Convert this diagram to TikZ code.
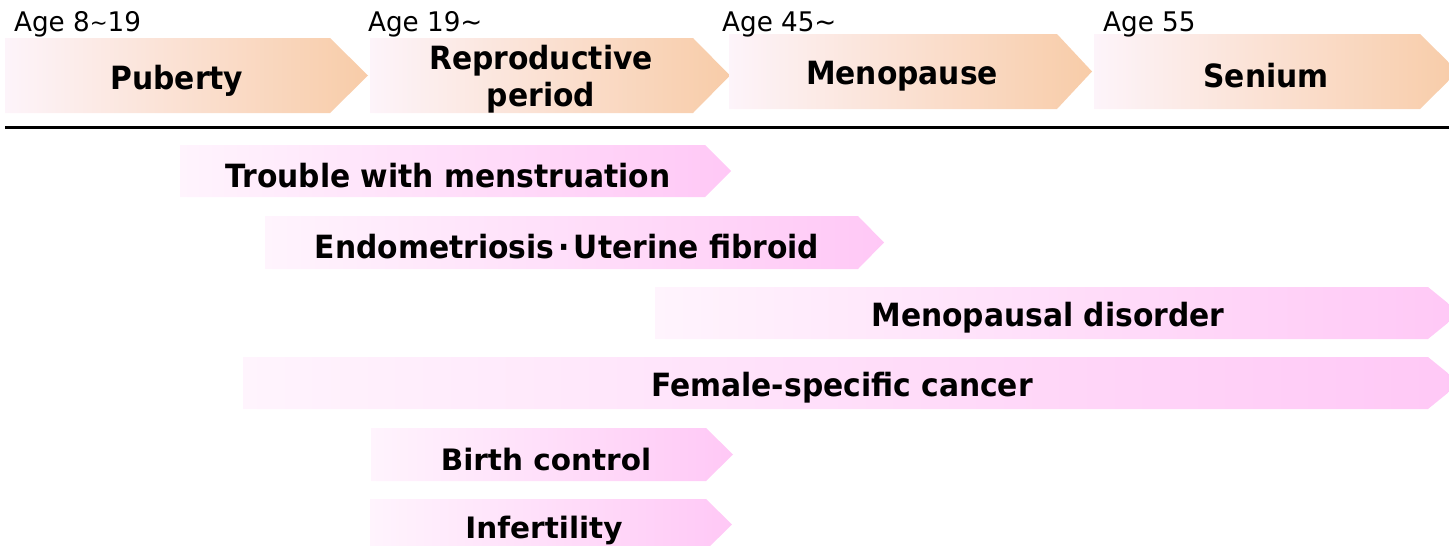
\documentclass[tikz,border=0pt]{standalone}
\usepackage{fontspec}
\setmainfont{DejaVu Sans}
\newfontfamily\condf{DejaVu Sans}[FakeStretch=0.93]
\newfontfamily\agef{DejaVu Sans}[FakeStretch=0.97]
\begin{document}
\begin{tikzpicture}[x=1pt,y=-1pt,
  topfill/.style={left color=topL, right color=topR, draw=none},
  botfill/.style={left color=botL, right color=botR, draw=none},
  lbl/.style={font=\condf\fontsize{32}{35}\selectfont\bfseries, inner sep=0pt, align=center, yshift=-3pt},
  wlbl/.style={font=\fontsize{29.5}{33}\selectfont\bfseries, inner sep=0pt, align=center, yshift=-3pt},
  agelbl/.style={font=\agef\fontsize{27}{30}\selectfont, inner sep=0pt, anchor=base west}]
\definecolor{topL}{RGB}{253,244,250}
\definecolor{topR}{RGB}{248,204,168}
\definecolor{botL}{RGB}{255,244,253}
\definecolor{botR}{RGB}{255,200,246}
\useasboundingbox (0,0) rectangle (1449,546);
\newcommand\chev[6]{\shade[#6] (#1,#2) -- (#4,#2) -- (#5,{(#2+#3)/2}) -- (#4,#3) -- (#1,#3) -- cycle;}
% top stages
\chev{5}{38}{113}{330}{368}{topfill}
\chev{370}{38}{113}{693}{730}{topfill}
\chev{729}{34}{109}{1057}{1092}{topfill}
\chev{1094}{34}{109}{1420}{1458}{topfill}
\node[lbl] (pub) at (177,78) {Puberty};
\node[lbl] (rep) at (541,76) {Reproductive\\[2pt]period};
\node[lbl] (men) at (902,73) {Menopause};
\node[lbl] (sen) at (1266,73) {Senium};
\node[agelbl] (a1) at (14,31) {Age 8\raisebox{1pt}{\fontsize{22}{24}\selectfont∼}19};
\node[agelbl] (a2) at (368,31) {Age 19∼};
\node[agelbl] (a3) at (722,31) {Age 45∼};
\node[agelbl] (a4) at (1103,31) {Age 55};
\coordinate (l0) at (5,127);
\coordinate (l1) at (1449,127);
\draw[line width=3pt] (l0) -- (l1);
% issues
\chev{180}{145}{197}{705}{731}{botfill}
\chev{265}{216}{269}{858}{884}{botfill}
\chev{655}{287}{339}{1428}{1460}{botfill}
\chev{243}{357}{409}{1428}{1460}{botfill}
\chev{371}{428}{481}{706}{733}{botfill}
\chev{370}{499}{550}{706}{732}{botfill}
\node[lbl] (t1) at (448,173) {Trouble with menstruation};
\node[lbl] (t2) at (567,244) {Endometriosis\hspace{4pt}·\hspace{4pt}Uterine fibroid};
\node[lbl] (t3) at (1048,315) {Menopausal disorder};
\node[lbl] (t4) at (842,385) {Female-specific cancer};
\node[wlbl] (t5) at (546,456) {Birth control};
\node[wlbl] (t6) at (544,527) {Infertility};
\end{tikzpicture}
\end{document}
